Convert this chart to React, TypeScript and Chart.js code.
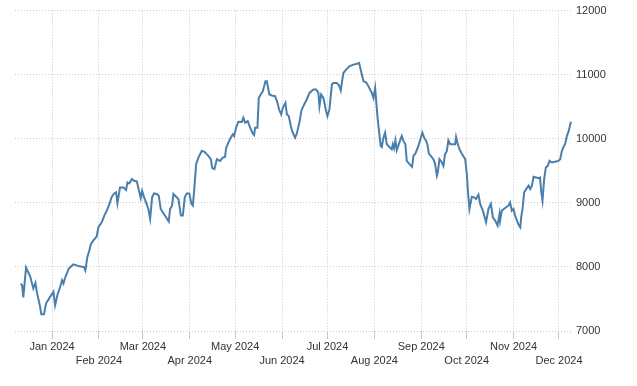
import React, { useEffect, useRef } from "react";
import { Chart, registerables } from "chart.js";

Chart.register(...registerables);

// Days since 2024-01-01 for each observation
const dayOffsets: number[] = [
  -20.7, -19.8, -19.0, -17.2, -14.5, -12.4, -11.0, -10.1, -7.9, -7.1, -5.3, -4.0, -1.3,
  0.9, 2.0, 3.5, 5.3, 6.6, 7.5, 8.8, 9.7, 11.0, 14.1, 18.0, 21.1, 22.0, 23.3, 24.6, 25.6,
  27.3, 29.5, 30.6, 32.8, 35.0, 36.2, 37.9, 39.5, 41.0, 42.3, 43.2, 44.9, 47.1, 48.9, 49.8,
  51.1, 52.7, 54.2, 56.0, 57.7, 58.6, 59.5, 60.8, 62.1, 63.6, 64.8, 66.1, 67.4, 69.2, 70.5,
  71.8, 73.6, 75.3, 77.1, 78.0, 79.3, 80.2, 82.0, 83.5, 85.1, 86.4, 87.7, 89.0, 90.7, 92.1,
  93.0, 93.9, 95.2, 96.7, 98.9, 100.5, 103.3, 104.9, 105.9, 107.3, 108.9, 111.0, 112.8,
  114.3, 115.0, 116.5, 118.1, 119.4, 120.3, 121.6, 123.1, 125.4, 126.4, 127.6, 129.3, 130.9,
  132.7, 133.5, 134.2, 135.7, 136.6, 137.9, 139.3, 141.0, 141.9, 143.6, 145.2, 147.4, 149.0,
  150.0, 151.4, 152.5, 154.2, 155.2, 156.4, 157.8, 158.6, 160.6, 161.7, 163.4, 164.8, 166.6,
  168.3, 170.1, 172.7, 174.5, 176.0, 176.7, 177.8, 179.3, 181.1, 182.0, 183.3, 184.9, 185.9,
  188.2, 189.7, 190.8, 191.5, 192.5, 194.3, 196.5, 199.1, 200.9, 202.9, 204.2, 205.8, 207.5,
  209.1, 211.3, 212.4, 213.5, 215.0, 216.3, 217.2, 217.9, 219.0, 220.1, 221.2, 222.9, 224.5,
  225.2, 226.0, 226.9, 227.8, 229.5, 231.1, 232.2, 233.5, 234.4, 236.2, 237.9, 238.8, 240.1,
  242.1, 243.7, 244.7, 245.9, 247.2, 248.0, 249.0, 250.3, 252.0, 253.1, 254.3, 254.9, 256.0,
  257.6, 258.6, 259.7, 260.9, 261.9, 263.1, 264.8, 266.4, 267.0, 267.9, 269.2, 271.0, 273.0,
  274.1, 274.8, 275.8, 277.4, 278.9, 280.2, 281.8, 282.9, 284.7, 286.8, 288.4, 290.0, 291.3,
  292.8, 294.4, 295.7, 296.1, 297.2, 299.4, 301.6, 302.7, 303.8, 304.9, 306.0, 308.2, 309.4,
  310.0, 310.9, 312.0, 313.3, 314.9, 316.0, 317.1, 318.2, 320.0, 321.5, 322.5, 323.2, 324.1,
  325.2, 326.3, 327.6, 328.7, 330.3, 332.4, 334.6, 335.8, 336.9, 338.0, 339.1, 340.2, 341.3,
  342.9,
];

const indexValues: number[] = [
  7740, 7714, 7523, 7989, 7853, 7662, 7749, 7610, 7377, 7263, 7263, 7429, 7532,
  7610, 7403, 7558, 7687, 7791, 7740, 7843, 7895, 7973, 8040, 8009, 7998, 7947, 8153, 8257, 8350,
  8413, 8475, 8619, 8697, 8827, 8878, 8983, 9096, 9147, 9163, 8992, 9240, 9240, 9200, 9318,
  9302, 9371, 9344, 9334, 9163, 9076, 9189, 9085, 9007, 8905, 8750, 9085, 9147, 9138, 9111,
  8905, 8837, 8774, 8708, 8905, 8956, 9138, 9096, 9060, 8801, 8801, 9085, 9147, 9147, 8983,
  8956, 9189, 9604, 9706, 9810, 9799, 9733, 9681, 9542, 9526, 9681, 9655, 9706,
  9717, 9852, 9939, 10017, 10070, 10043, 10172, 10265, 10261, 10327, 10250, 10276, 10172,
  10079, 10059, 10172, 10172, 10638, 10691, 10742, 10897, 10897, 10691, 10675, 10664, 10560,
  10458, 10380, 10483, 10560, 10380, 10354, 10199, 10121, 10017, 10079, 10250, 10442, 10536,
  10613, 10716, 10768, 10768, 10716, 10509, 10691, 10638, 10431, 10354, 10458, 10846, 10871,
  10871, 10831, 10753, 10871, 11026, 11079, 11130, 11157, 11167, 11182, 11053, 10897, 10882,
  10820, 10716, 10638, 10793, 10354, 10070, 9888, 9872, 10017, 10095, 9914, 9872, 9837,
  9914, 9852, 9976, 9821, 9939, 10043, 9966, 9914, 9655, 9604, 9562, 9733, 9768,
  9888, 10017, 10095, 10017, 9966, 9914, 9768, 9733, 9681, 9613, 9422, 9473, 9681,
  9629, 9577, 9759, 9810, 9976, 9914, 9914, 9914, 10028, 9939, 9837, 9759, 9681,
  9448, 9189, 8905, 9096, 9085, 9060, 9127, 8983, 8878, 8697, 8905, 8983, 8774,
  8723, 8646, 8827, 8723, 8878, 8920, 8956, 9007, 8878, 8905, 8801, 8661, 8619,
  8774, 8905, 9163, 9215, 9267, 9215, 9267, 9406, 9396, 9386, 9396, 9189, 9034,
  9371, 9551, 9577, 9655, 9629, 9640, 9655, 9681, 9810, 9872, 9924, 10043, 10110,
  10265,
];

// Month starts (days since 2024-01-01) and their labels
const monthTickDays: number[] = [0, 31, 60, 91, 121, 152, 182, 213, 244, 274, 305, 335];
const monthTickLabels: string[] = [
  "Jan 2024", "Feb 2024", "Mar 2024", "Apr 2024", "May 2024", "Jun 2024",
  "Jul 2024", "Aug 2024", "Sep 2024", "Oct 2024", "Nov 2024", "Dec 2024",
];

const yTicks: number[] = [7000, 8000, 9000, 10000, 11000, 12000];

export default function App() {
  const canvasRef = useRef<HTMLCanvasElement | null>(null);

  useEffect(() => {
    if (!canvasRef.current) return;
    const points = dayOffsets.map((d, i) => ({ x: d, y: indexValues[i] }));
    const gridColor = "#c8c8c8";
    const chart = new Chart(canvasRef.current, {
      type: "line",
      data: {
        datasets: [
          {
            data: points,
            borderColor: "#4a7fac",
            borderWidth: 2,
            pointRadius: 0,
            tension: 0,
            fill: false,
          },
        ],
      },
      options: {
        animation: false,
        responsive: false,
        maintainAspectRatio: false,
        layout: { padding: { left: 15, top: 9, right: 0, bottom: 0 } },
        plugins: { legend: { display: false }, tooltip: { enabled: false } },
        scales: {
          x: {
            type: "linear",
            min: -24.5,
            max: 343.6,
            afterBuildTicks: (scale: any) => {
              scale.ticks = monthTickDays.map((v) => ({ value: v }));
            },
            afterFit: (scale: any) => {
              scale.height = 55;
            },
            grid: {
              color: gridColor,
              lineWidth: 1,
              drawTicks: true,
              tickLength: 8,
            },
            border: { display: false, dash: [1, 2] },
            ticks: {
              autoSkip: false,
              maxRotation: 0,
              minRotation: 0,
              padding: 1,
              color: "#333333",
              font: { family: "'Liberation Sans', Arial, sans-serif", size: 11, lineHeight: 1.3 },
              callback: (_v: any, i: number) => {
                const lbl = monthTickLabels[i] ?? "";
                return i % 2 === 0 ? [lbl, ""] : ["", lbl];
              },
            },
          },
          y: {
            type: "linear",
            position: "right",
            min: 7000,
            max: 12000,
            afterBuildTicks: (scale: any) => {
              scale.ticks = yTicks.map((v) => ({ value: v }));
            },
            afterFit: (scale: any) => {
              scale.width = 65;
            },
            grid: { color: gridColor, lineWidth: 1, drawTicks: false },
            border: { display: false, dash: [1, 2] },
            ticks: {
              padding: 4,
              color: "#333333",
              font: { family: "'Liberation Sans', Arial, sans-serif", size: 11 },
              callback: (v: any) => String(v),
            },
          },
        },
      },
    });
    return () => chart.destroy();
  }, []);

  return (
    <div style={{ position: "fixed", left: 0, top: 0, width: 637, height: 386, background: "#ffffff" }}>
      <canvas ref={canvasRef} width={637} height={386} style={{ width: 637, height: 386 }} />
    </div>
  );
}
